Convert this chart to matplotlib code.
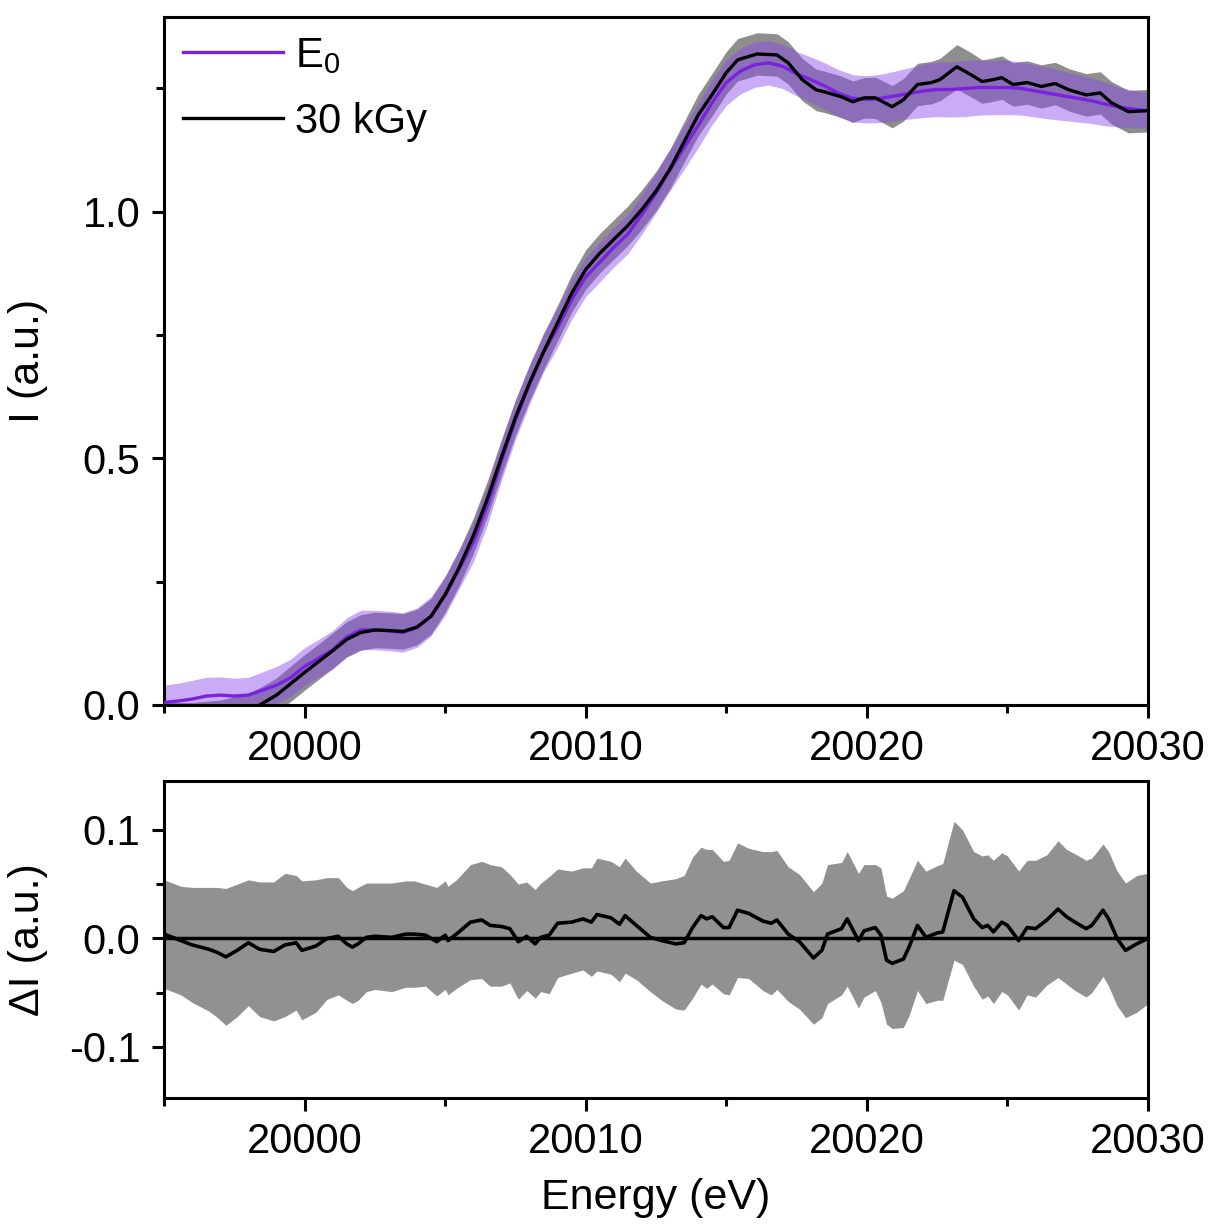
import numpy as np
import matplotlib
matplotlib.use("Agg")
import matplotlib.pyplot as plt
from matplotlib.ticker import MultipleLocator

plt.rcParams['font.family'] = ['Liberation Sans', 'DejaVu Sans']
plt.rcParams['mathtext.default'] = 'regular'
plt.rcParams['axes.unicode_minus'] = False

# E0 spectrum (mean and spread)
E_e0 = [19995.0, 19995.5, 19996.0, 19996.5, 19997.0, 19997.5, 19998.0, 19998.5, 19999.0, 19999.5,
        20000.0, 20000.5, 20001.0, 20001.5, 20002.0, 20002.5, 20003.0, 20003.5, 20004.0, 20004.5,
        20005.0, 20005.5, 20006.0, 20006.5, 20007.0, 20007.5, 20008.0, 20008.5, 20009.0, 20009.5,
        20010.0, 20010.5, 20011.0, 20011.5, 20012.0, 20012.5, 20013.0, 20013.5, 20014.0, 20014.5,
        20015.0, 20015.5, 20016.0, 20016.5, 20017.0, 20017.5, 20018.0, 20018.5, 20019.0, 20019.5,
        20020.0, 20020.5, 20021.0, 20021.5, 20022.0, 20022.5, 20023.0, 20023.5, 20024.0, 20024.5,
        20025.0, 20025.5, 20026.0, 20026.5, 20027.0, 20027.5, 20028.0, 20028.5, 20029.0, 20029.5,
        20030.0]
I_e0 = [0.005, 0.008, 0.012, 0.018, 0.020, 0.018, 0.020, 0.030, 0.040, 0.055,
        0.078, 0.095, 0.112, 0.138, 0.152, 0.152, 0.150, 0.147, 0.157, 0.180,
        0.222, 0.276, 0.330, 0.405, 0.495, 0.578, 0.650, 0.715, 0.765, 0.822,
        0.868, 0.898, 0.928, 0.955, 0.995, 1.038, 1.085, 1.130, 1.175, 1.222,
        1.262, 1.285, 1.298, 1.302, 1.295, 1.280, 1.268, 1.255, 1.240, 1.230,
        1.228, 1.230, 1.235, 1.240, 1.245, 1.248, 1.248, 1.250, 1.252, 1.252,
        1.252, 1.250, 1.245, 1.240, 1.235, 1.230, 1.225, 1.218, 1.212, 1.208,
        1.205]
err_e0 = [0.035, 0.036, 0.038, 0.038, 0.037, 0.036, 0.036, 0.037, 0.038, 0.038,
          0.038, 0.038, 0.039, 0.039, 0.040, 0.040, 0.040, 0.040, 0.040, 0.040,
          0.040, 0.040, 0.040, 0.040, 0.040, 0.040, 0.040, 0.040, 0.040, 0.040,
          0.040, 0.040, 0.040, 0.040, 0.040, 0.040, 0.042, 0.044, 0.045, 0.045,
          0.046, 0.046, 0.046, 0.045, 0.045, 0.045, 0.046, 0.047, 0.048, 0.048,
          0.048, 0.049, 0.050, 0.052, 0.054, 0.055, 0.056, 0.057, 0.056, 0.055,
          0.055, 0.054, 0.053, 0.052, 0.050, 0.048, 0.046, 0.044, 0.040, 0.038,
          0.036]

# 30 kGy spectrum (mean and spread)
E_30 = [19995.0, 19996.0, 19997.0, 19998.0, 19998.5, 19999.0, 19999.5, 20000.0, 20000.5, 20001.0,
        20001.5, 20002.0, 20002.5, 20003.0, 20003.5, 20004.0, 20004.5, 20005.0, 20005.5, 20006.0,
        20006.5, 20007.0, 20007.5, 20008.0, 20008.5, 20009.0, 20009.5, 20010.0, 20010.5, 20011.0,
        20011.5, 20012.0, 20012.5, 20013.0, 20013.5, 20014.0, 20014.5, 20015.0, 20015.4, 20016.1,
        20016.8, 20017.2, 20017.7, 20018.2, 20018.5, 20019.1, 20019.5, 20019.9, 20020.3, 20020.9,
        20021.3, 20021.8, 20022.3, 20022.6, 20023.2, 20023.7, 20024.1, 20024.5, 20024.8, 20025.2,
        20025.7, 20026.2, 20026.7, 20027.2, 20027.8, 20028.3, 20028.7, 20029.3, 20030.0]
I_30 = [-0.030, -0.030, -0.025, -0.012, 0.003, 0.020, 0.043, 0.066, 0.088, 0.110,
        0.133, 0.147, 0.152, 0.151, 0.149, 0.158, 0.180, 0.224, 0.279, 0.343,
        0.418, 0.502, 0.583, 0.653, 0.716, 0.775, 0.835, 0.883, 0.916, 0.944,
        0.972, 1.005, 1.042, 1.087, 1.142, 1.196, 1.238, 1.282, 1.308, 1.320,
        1.318, 1.302, 1.268, 1.247, 1.243, 1.233, 1.223, 1.231, 1.231, 1.213,
        1.227, 1.258, 1.262, 1.268, 1.294, 1.278, 1.264, 1.268, 1.272, 1.258,
        1.262, 1.254, 1.260, 1.247, 1.237, 1.241, 1.221, 1.203, 1.205]
err_30 = [0.035, 0.035, 0.035, 0.035, 0.035, 0.035, 0.036, 0.036, 0.036, 0.036,
          0.036, 0.036, 0.036, 0.036, 0.036, 0.036, 0.036, 0.036, 0.036, 0.036,
          0.036, 0.036, 0.036, 0.036, 0.036, 0.036, 0.038, 0.040, 0.040, 0.040,
          0.040, 0.040, 0.040, 0.040, 0.041, 0.042, 0.043, 0.043, 0.043, 0.043,
          0.043, 0.043, 0.043, 0.042, 0.042, 0.042, 0.042, 0.041, 0.042, 0.043,
          0.043, 0.043, 0.043, 0.043, 0.045, 0.045, 0.044, 0.044, 0.044, 0.044,
          0.044, 0.044, 0.043, 0.043, 0.043, 0.043, 0.043, 0.043, 0.043]

# difference 30 kGy - E0 and its propagated spread
E_d = [19995.0, 19995.6, 19996.0, 19996.6, 19996.9, 19997.2, 19997.6, 19998.0, 19998.4, 19998.9,
       19999.3, 19999.7, 19999.9, 20000.4, 20000.8, 20001.2, 20001.5, 20001.7, 20001.9, 20002.2,
       20002.5, 20003.1, 20003.6, 20003.9, 20004.3, 20004.7, 20005.0, 20005.1, 20005.4, 20005.9,
       20006.3, 20006.6, 20007.0, 20007.3, 20007.6, 20007.9, 20008.2, 20008.4, 20008.7, 20009.0,
       20009.5, 20009.9, 20010.2, 20010.4, 20010.9, 20011.2, 20011.4, 20011.8, 20012.3, 20012.7,
       20013.2, 20013.5, 20013.8, 20014.1, 20014.3, 20014.5, 20014.9, 20015.1, 20015.4, 20015.8,
       20016.3, 20016.6, 20016.8, 20017.2, 20017.6, 20018.1, 20018.4, 20018.6, 20019.1, 20019.3,
       20019.7, 20019.9, 20020.3, 20020.5, 20020.7, 20020.9, 20021.3, 20021.5, 20021.8, 20022.1,
       20022.5, 20022.7, 20023.1, 20023.4, 20023.8, 20024.1, 20024.3, 20024.5, 20024.8, 20025.0,
       20025.4, 20025.7, 20026.0, 20026.4, 20026.8, 20027.1, 20027.4, 20027.8, 20028.0, 20028.4,
       20028.6, 20028.9, 20029.2, 20029.6, 20030.0]
dI = [0.004, -0.002, -0.006, -0.010, -0.013, -0.017, -0.011, -0.004, -0.010, -0.012,
      -0.006, -0.004, -0.011, -0.007, 0.000, 0.002, -0.005, -0.008, -0.005, 0.001,
      0.002, 0.001, 0.004, 0.004, 0.003, -0.003, 0.003, -0.002, 0.004, 0.015,
      0.017, 0.012, 0.011, 0.009, -0.003, 0.002, -0.005, 0.001, 0.003, 0.014,
      0.015, 0.018, 0.015, 0.022, 0.019, 0.013, 0.021, 0.012, 0.001, -0.002,
      -0.005, -0.004, 0.010, 0.021, 0.018, 0.020, 0.010, 0.010, 0.026, 0.023,
      0.016, 0.014, 0.017, 0.004, -0.003, -0.018, -0.011, 0.004, 0.009, 0.018,
      -0.002, 0.007, 0.010, 0.003, -0.020, -0.023, -0.019, -0.008, 0.012, 0.001,
      0.005, 0.006, 0.044, 0.038, 0.018, 0.010, 0.012, 0.006, 0.015, 0.012,
      -0.002, 0.010, 0.009, 0.017, 0.027, 0.020, 0.015, 0.009, 0.012, 0.026,
      0.018, 0.000, -0.011, -0.005, 0.000]
dI_err = [0.050, 0.050, 0.053, 0.057, 0.060, 0.063, 0.061, 0.058, 0.062, 0.064,
          0.066, 0.062, 0.064, 0.061, 0.056, 0.054, 0.052, 0.052, 0.052, 0.050,
          0.049, 0.050, 0.049, 0.049, 0.047, 0.050, 0.050, 0.050, 0.050, 0.053,
          0.054, 0.056, 0.055, 0.050, 0.053, 0.050, 0.050, 0.050, 0.054, 0.050,
          0.047, 0.047, 0.050, 0.052, 0.052, 0.053, 0.053, 0.050, 0.050, 0.055,
          0.060, 0.062, 0.065, 0.063, 0.064, 0.062, 0.061, 0.062, 0.062, 0.060,
          0.064, 0.066, 0.064, 0.062, 0.062, 0.061, 0.062, 0.064, 0.061, 0.062,
          0.062, 0.061, 0.058, 0.062, 0.059, 0.060, 0.063, 0.063, 0.060, 0.061,
          0.062, 0.063, 0.064, 0.062, 0.062, 0.066, 0.065, 0.066, 0.064, 0.064,
          0.064, 0.062, 0.063, 0.060, 0.063, 0.062, 0.063, 0.063, 0.062, 0.061,
          0.062, 0.062, 0.062, 0.063, 0.060]

purple = '#7a22e0'
purple_band = '#8a48ec'
gray_band = '#8e8e8e'

fig = plt.figure(figsize=(12.17, 12.29), dpi=100)
ax1 = fig.add_axes([0.1348, 0.4264, 0.8085, 0.5598])
ax2 = fig.add_axes([0.1348, 0.1066, 0.8085, 0.2579])

e0 = np.array(I_e0); s0 = np.array(err_e0)
k30 = np.array(I_30); s30 = np.array(err_30)
ax1.fill_between(E_30, k30 - s30, k30 + s30, color=gray_band, lw=0, zorder=1)
ax1.fill_between(E_e0, e0 - s0, e0 + s0, color=purple_band, alpha=0.45, lw=0, zorder=2)
ax1.plot(E_e0, I_e0, color=purple, lw=2.4, label='E$_0$', zorder=3)
ax1.plot(E_30, I_30, color='black', lw=2.4, label='30 kGy', zorder=4)

d = np.array(dI); sd = np.array(dI_err)
ax2.fill_between(E_d, d - sd, d + sd, color='#919191', lw=0, zorder=1)
ax2.axhline(0, color='black', lw=2.5, zorder=2)
ax2.plot(E_d, dI, color='black', lw=2.6, zorder=3)

ax1.set_xlim(19995, 20030)
ax1.set_ylim(0, 1.395)
ax2.set_xlim(19995, 20030)
ax2.set_ylim(-0.147, 0.145)

ax1.yaxis.set_major_locator(MultipleLocator(0.5))
ax1.yaxis.set_minor_locator(MultipleLocator(0.25))
ax2.yaxis.set_major_locator(MultipleLocator(0.1))
ax2.yaxis.set_minor_locator(MultipleLocator(0.05))
for ax in (ax1, ax2):
    ax.xaxis.set_major_locator(MultipleLocator(10))
    ax.xaxis.set_minor_locator(MultipleLocator(5))
    ax.tick_params(which='both', direction='out', width=2.2, labelsize=30,
                   top=False, right=False)
    ax.tick_params(which='major', length=9, pad=8)
    ax.tick_params(which='minor', length=6)
    for sp in ax.spines.values():
        sp.set_linewidth(2.2)

ax1.set_ylabel('I (a.u.)', fontsize=31)
ax2.set_ylabel('ΔI (a.u.)', fontsize=31)
ax2.set_xlabel('Energy (eV)', fontsize=31, labelpad=12)
ax1.yaxis.set_label_coords(-0.118, 0.5)
ax2.yaxis.set_label_coords(-0.118, 0.5)

ax1.legend(loc='upper left', frameon=False, fontsize=30, handlelength=2.4,
           handletextpad=0.3, labelspacing=0.62, borderaxespad=0.25,
           borderpad=0.2)

fig.savefig('out.png', dpi=100)
